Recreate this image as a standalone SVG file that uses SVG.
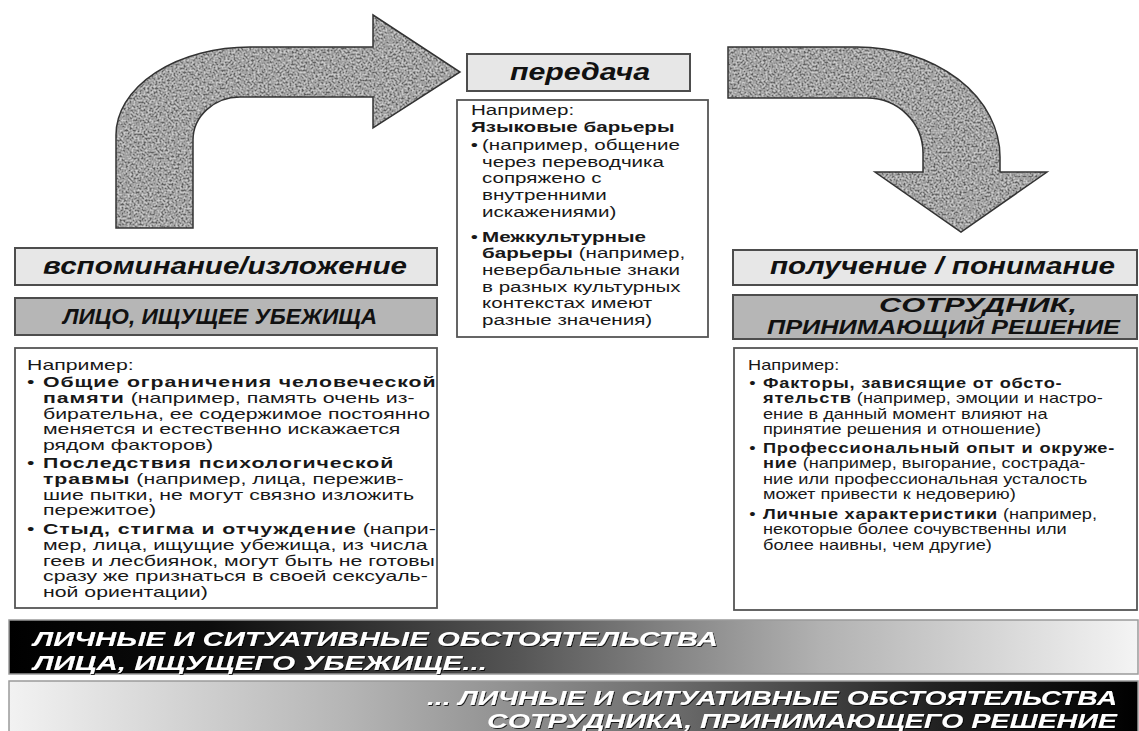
<svg xmlns="http://www.w3.org/2000/svg" width="1139" height="731" viewBox="0 0 1139 731">
<defs>
<style>
.hdr{fill:#e7e7e7;stroke:#4d4d4d;stroke-width:2}
.hdr2{fill:#b6b6b6;stroke:#4d4d4d;stroke-width:2}
.box{fill:#ffffff;stroke:#555555;stroke-width:1.8}
.ht{font-family:"Liberation Sans",Arial,sans-serif;font-weight:bold;font-style:italic;fill:#111}
.bt{font-family:"Liberation Sans",Arial,sans-serif;font-size:14px;fill:#181818}
.b{font-weight:bold;letter-spacing:0.6px}
.bm{font-weight:bold}
.bar{font-family:"Liberation Sans",Arial,sans-serif;font-weight:bold;font-style:italic;font-size:21px;fill:#ffffff}
.arrow{fill:#828282}
.arrowline{fill:none;stroke:#333;stroke-width:1.5}
</style>
<filter id="grain" x="0" y="0" width="100%" height="100%">
<feTurbulence type="fractalNoise" baseFrequency="0.5" numOctaves="2" seed="7" result="noise"/>
<feColorMatrix in="noise" type="matrix" values="2.2 0 0 0 -0.6  2.2 0 0 0 -0.6  2.2 0 0 0 -0.6  0 0 0 0 0.5" result="g"/>
<feComposite in="g" in2="SourceGraphic" operator="in" result="gi"/>
<feMerge><feMergeNode in="SourceGraphic"/><feMergeNode in="gi"/></feMerge>
</filter>
<filter id="shadow" x="-5%" y="-30%" width="110%" height="160%">
<feDropShadow dx="1" dy="1" stdDeviation="0.6" flood-color="#000" flood-opacity="0.8"/>
</filter>
<linearGradient id="g1" x1="0" y1="0" x2="1" y2="0">
<stop offset="0" stop-color="#000"/>
<stop offset="0.18" stop-color="#0d0d0d"/>
<stop offset="0.45" stop-color="#555"/>
<stop offset="0.72" stop-color="#b2b2b2"/>
<stop offset="1" stop-color="#f4f4f4"/>
</linearGradient>
<linearGradient id="g2" x1="0" y1="0" x2="1" y2="0">
<stop offset="0" stop-color="#f2f2f2"/>
<stop offset="0.3" stop-color="#b5b5b5"/>
<stop offset="0.58" stop-color="#6e6e6e"/>
<stop offset="0.82" stop-color="#222"/>
<stop offset="1" stop-color="#000"/>
</linearGradient>
</defs>
<rect width="1139" height="731" fill="#ffffff"/>

<g id="connectors">
<path class="arrow" filter="url(#grain)" d="M116,228 L116,135 A134,88 0 0 1 250,47 L373,47 L373,15 L460,72 L373,128 L373,97 L240,97 A47,43 0 0 0 193,140 L193,228 Z"/>
<path class="arrowline" d="M116,228 L116,135 A134,88 0 0 1 250,47 L373,47 L373,15 L460,72 L373,128 L373,97 L240,97 A47,43 0 0 0 193,140 L193,228 Z"/>
<path class="arrow" filter="url(#grain)" d="M728,47 L857,47 A143,110 0 0 1 1000,157 L1000,172 L1047,172 L961,232 L875,172 L923,172 L923,153 A56,55 0 0 0 867,98 L728,98 Z"/>
<path class="arrowline" d="M728,47 L857,47 A143,110 0 0 1 1000,157 L1000,172 L1047,172 L961,232 L875,172 L923,172 L923,153 A56,55 0 0 0 867,98 L728,98 Z"/>
</g>

<g id="transfer">
<rect class="hdr" x="467" y="54" width="223" height="37"/>
<text class="ht" x="510" y="80" font-size="24" textLength="140" lengthAdjust="spacingAndGlyphs">передача</text>
</g>

<g id="transfer-examples">
<rect class="box" x="457" y="100" width="251" height="237"/>
<g class="bt" transform="translate(482,0) scale(1.47,1)">
<text x="-7.5" y="115">Например:</text>
<text x="-7.5" y="132" class="bm">Языковые барьеры</text>
<text x="-7.7" y="150">•</text>
<text x="0" y="150">(например, общение</text>
<text x="0" y="167">через переводчика</text>
<text x="0" y="183">сопряжено с</text>
<text x="0" y="200">внутренними</text>
<text x="0" y="217">искажениями)</text>
<text x="-7.7" y="242">•</text>
<text x="0" y="242" class="bm">Межкультурные</text>
<text x="0" y="258"><tspan class="bm">барьеры</tspan> (например,</text>
<text x="0" y="275">невербальные знаки</text>
<text x="0" y="292">в разных культурных</text>
<text x="0" y="308">контекстах имеют</text>
<text x="0" y="325">разные значения)</text>
</g>
</g>

<g id="recall">
<rect class="hdr" x="15" y="248" width="422" height="37"/>
<text class="ht" x="43" y="274" font-size="24" textLength="364" lengthAdjust="spacingAndGlyphs">вспоминание/изложение</text>
</g>

<g id="asylum-seeker">
<rect class="hdr2" x="15" y="298" width="422" height="37"/>
<text class="ht" x="63" y="324" font-size="22" textLength="314" lengthAdjust="spacingAndGlyphs">ЛИЦО, ИЩУЩЕЕ УБЕЖИЩА</text>
</g>

<g id="seeker-examples">
<rect class="box" x="15" y="348" width="422" height="260"/>
<g class="bt" transform="translate(43,0) scale(1.52,1)">
<text x="-10.5" y="370">Например:</text>
<text x="-10.5" y="387">•</text>
<text x="0" y="387" class="b">Общие ограничения человеческой</text>
<text x="0" y="402.8"><tspan class="b">памяти</tspan> (например, память очень из-</text>
<text x="0" y="418.6">бирательна, ее содержимое постоянно</text>
<text x="0" y="434.4">меняется и естественно искажается</text>
<text x="0" y="450.2">рядом факторов)</text>
<text x="-10.5" y="468">•</text>
<text x="0" y="468" class="b">Последствия психологической</text>
<text x="0" y="483.8"><tspan class="b">травмы</tspan> (например, лица, пережив-</text>
<text x="0" y="499.6">шие пытки, не могут связно изложить</text>
<text x="0" y="515.4">пережитое)</text>
<text x="-10.5" y="534">•</text>
<text x="0" y="534"><tspan class="b">Стыд, стигма и отчуждение</tspan> (напри-</text>
<text x="0" y="549.8">мер, лица, ищущие убежища, из числа</text>
<text x="0" y="565.6">геев и лесбиянок, могут быть не готовы</text>
<text x="0" y="581.4">сразу же признаться в своей сексуаль-</text>
<text x="0" y="597.2">ной ориентации)</text>
</g>
</g>

<g id="reception">
<rect class="hdr" x="733" y="250" width="404" height="35"/>
<text class="ht" x="770" y="274" font-size="24" textLength="345" lengthAdjust="spacingAndGlyphs">получение / понимание</text>
</g>

<g id="decision-maker">
<rect class="hdr2" x="733" y="295" width="404" height="44"/>
<text class="ht" x="879" y="312" font-size="21" textLength="198" lengthAdjust="spacingAndGlyphs">СОТРУДНИК,</text>
<text class="ht" x="767" y="334" font-size="21" textLength="353" lengthAdjust="spacingAndGlyphs">ПРИНИМАЮЩИЙ РЕШЕНИЕ</text>
</g>

<g id="officer-examples">
<rect class="box" x="734" y="348" width="403" height="262"/>
<g class="bt" transform="translate(763,0) scale(1.3,1)">
<text x="-11.5" y="370">Например:</text>
<text x="-10.5" y="388">•</text>
<text x="0" y="388" class="b">Факторы, зависящие от обсто-</text>
<text x="0" y="403.5"><tspan class="b">ятельств</tspan> (например, эмоции и настро-</text>
<text x="0" y="419">ение в данный момент влияют на</text>
<text x="0" y="434.5">принятие решения и отношение)</text>
<text x="-10.5" y="453">•</text>
<text x="0" y="453" class="b">Профессиональный опыт и окруже-</text>
<text x="0" y="468.5"><tspan class="b">ние</tspan> (например, выгорание, сострада-</text>
<text x="0" y="484">ние или профессиональная усталость</text>
<text x="0" y="499.5">может привести к недоверию)</text>
<text x="-10.5" y="519">•</text>
<text x="0" y="519"><tspan class="b">Личные характеристики</tspan> (например,</text>
<text x="0" y="534.5">некоторые более сочувственны или</text>
<text x="0" y="550">более наивны, чем другие)</text>
</g>
</g>

<g id="seeker-circumstances">
<rect x="9" y="620" width="1129" height="54" fill="url(#g1)" stroke="#9a9a9a" stroke-width="1.5"/>
<g filter="url(#shadow)">
<text class="bar" x="33" y="646" textLength="685" lengthAdjust="spacingAndGlyphs">ЛИЧНЫЕ И СИТУАТИВНЫЕ ОБСТОЯТЕЛЬСТВА</text>
<text class="bar" x="33" y="670" textLength="454" lengthAdjust="spacingAndGlyphs">ЛИЦА, ИЩУЩЕГО УБЕЖИЩЕ...</text>
</g>
</g>

<g id="officer-circumstances">
<rect x="9" y="681" width="1129" height="56" fill="url(#g2)" stroke="#9a9a9a" stroke-width="1.5"/>
<g filter="url(#shadow)">
<text class="bar" x="427" y="705" textLength="690" lengthAdjust="spacingAndGlyphs">... ЛИЧНЫЕ И СИТУАТИВНЫЕ ОБСТОЯТЕЛЬСТВА</text>
<text class="bar" x="487" y="728" textLength="630" lengthAdjust="spacingAndGlyphs">СОТРУДНИКА, ПРИНИМАЮЩЕГО РЕШЕНИЕ</text>
</g>
</g>
</svg>
